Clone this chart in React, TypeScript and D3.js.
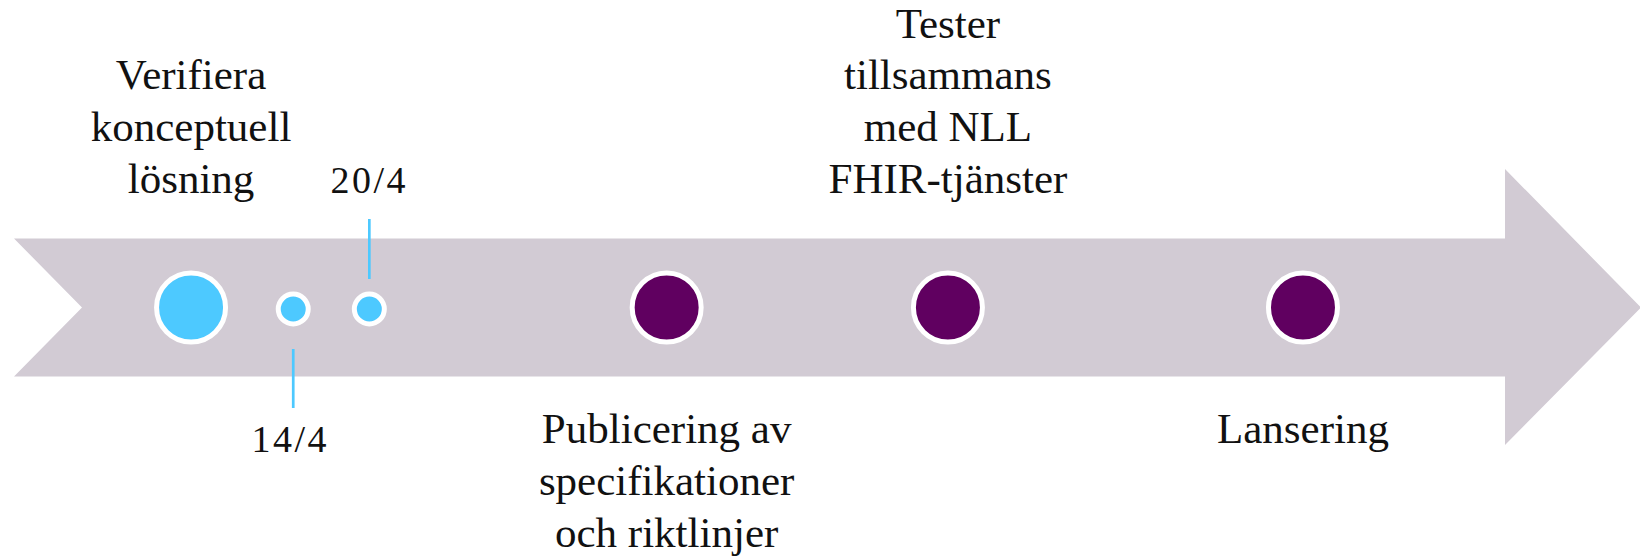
import { useRef, useEffect } from "react";
import * as d3 from "d3";

// milstolpar längs tidslinjen (position i procent av bredden)
const milestoneNames = ["Verifiera konceptuell lösning", "14/4", "20/4", "Publicering av specifikationer", "Tester med NLL", "Lansering"];
const milestonePos = [11.65, 17.88, 22.52, 40.65, 57.8, 79.45];
const milestoneKind = ["major", "minor", "minor", "major", "major", "major"];
const milestoneColor = ["#4dc9ff", "#4dc9ff", "#4dc9ff", "#600060", "#600060", "#600060"];

// texter
const labelLines = [
  ["Verifiera", "konceptuell", "lösning"],
  [],
  [],
  ["Publicering av", "specifikationer", "och riktlinjer"],
  ["Tester", "tillsammans", "med NLL", "FHIR-tjänster"],
  ["Lansering"],
];
const labelSide = ["above", "", "", "below", "above", "below"];
const dateLabels = ["", "14/4", "20/4", "", "", ""];
const dateSide = ["", "below", "above", "", "", ""];

const W = 1640;
const H = 559;

const Timeline = () => {
  const svgRef = useRef<SVGSVGElement>(null);

  useEffect(() => {
    const svg = d3.select(svgRef.current);
    svg.selectAll("*").remove();

    const x = d3.scaleLinear().domain([0, 100]).range([0, W]);

    const midY = 307.5;
    const bandTop = 238.5;
    const bandBottom = 376.5;
    const headX = 1505;
    const headTop = 169;
    const headBottom = 445;
    const notch = 68;
    const left = 14;

    // pilen
    const arrow: [number, number][] = [
      [left, bandTop],
      [headX, bandTop],
      [headX, headTop],
      [W + 1, midY],
      [headX, headBottom],
      [headX, bandBottom],
      [left, bandBottom],
      [left + notch, midY],
    ];
    svg
      .append("path")
      .attr("d", d3.line()(arrow) + "Z")
      .attr("fill", "#d2cbd4");

    const fontFamily = "'Liberation Serif', 'Times New Roman', serif";
    const lineH = 51.8;

    // linjer för datum
    milestoneNames.forEach((_, i) => {
      if (!dateLabels[i]) return;
      const cx = x(milestonePos[i]);
      const g = svg.append("g");
      if (dateSide[i] === "below") {
        g.append("line")
          .attr("x1", cx).attr("x2", cx)
          .attr("y1", 349).attr("y2", 408)
          .attr("stroke", "#4dc9ff").attr("stroke-width", 2.7);
        g.append("text")
          .attr("x", cx - 3).attr("y", 452)
          .attr("text-anchor", "middle")
          .attr("font-family", fontFamily)
          .attr("font-size", 38)
          .attr("letter-spacing", 2.5)
          .attr("fill", "#111")
          .text(dateLabels[i]);
      } else {
        g.append("line")
          .attr("x1", cx).attr("x2", cx)
          .attr("y1", 219).attr("y2", 279)
          .attr("stroke", "#4dc9ff").attr("stroke-width", 2.7);
        g.append("text")
          .attr("x", cx).attr("y", 193)
          .attr("text-anchor", "middle")
          .attr("font-family", fontFamily)
          .attr("font-size", 38)
          .attr("letter-spacing", 2.5)
          .attr("fill", "#111")
          .text(dateLabels[i]);
      }
    });

    // cirklar
    svg
      .selectAll(".dot")
      .data(milestonePos)
      .enter()
      .append("circle")
      .attr("class", "dot")
      .attr("cx", (d) => x(d))
      .attr("cy", (d, i) => (milestoneKind[i] === "major" ? midY : midY + 1.5))
      .attr("r", (d, i) => (milestoneKind[i] === "major" ? 34.5 : 15))
      .attr("fill", (d, i) => milestoneColor[i])
      .attr("stroke", "#fff")
      .attr("stroke-width", 5);

    // etiketter
    labelLines.forEach((lines, i) => {
      if (!lines.length) return;
      const cx = x(milestonePos[i]);
      const t = svg
        .append("text")
        .attr("text-anchor", "middle")
        .attr("font-family", fontFamily)
        .attr("font-size", 43)
        .attr("fill", "#111");
      lines.forEach((ln, j) => {
        const y =
          labelSide[i] === "above"
            ? 193 - (lines.length - 1 - j) * lineH
            : 443 + j * lineH;
        t.append("tspan").attr("x", cx).attr("y", y).text(ln);
      });
    });
  }, []);

  return (
    <svg
      ref={svgRef}
      width={W}
      height={H}
      style={{ position: "fixed", top: 0, left: 0, display: "block", background: "#fff" }}
    ></svg>
  );
};

export default function App() {
  return <Timeline />;
}
